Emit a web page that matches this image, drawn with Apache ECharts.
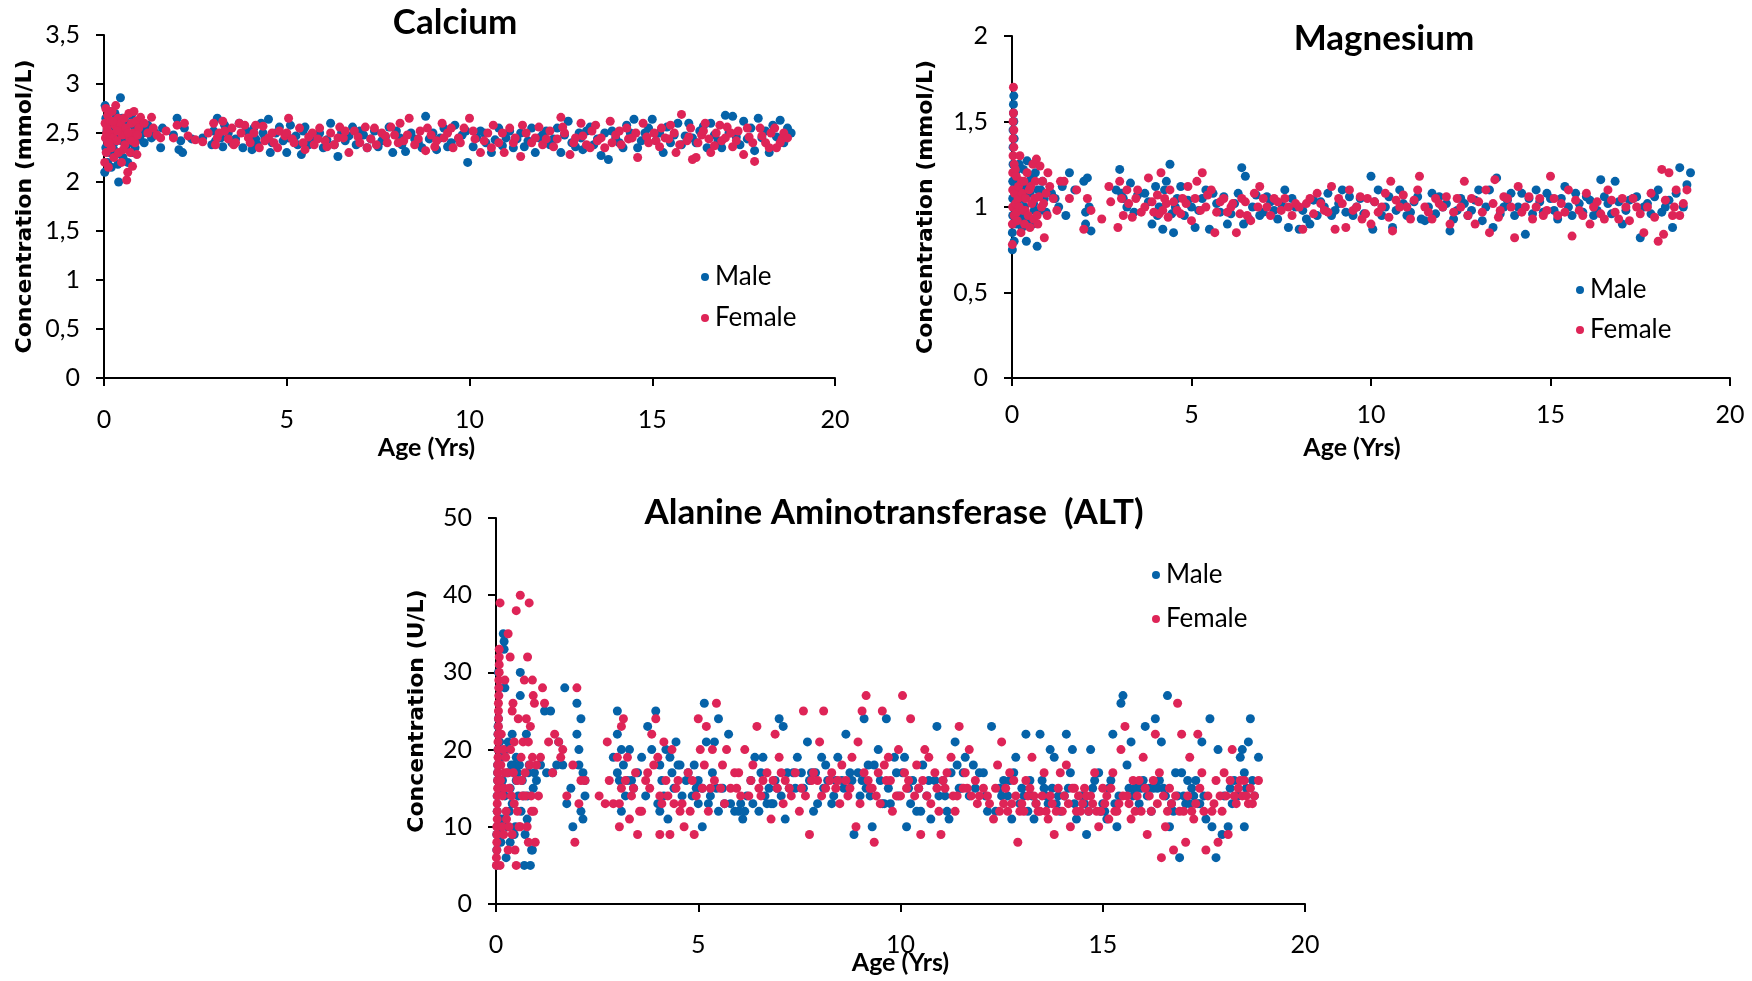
<!DOCTYPE html>
<html>
<head>
<meta charset="utf-8">
<script src="https://cdn.jsdelivr.net/npm/echarts@6/dist/echarts.min.js"></script>
<style>
html,body{margin:0;padding:0;background:#fff;}
#chart{width:1752px;height:981px;}
</style>
</head>
<body>
<div id="chart"></div>
<script>
// ---------- DATA: [age (yrs), concentration] ----------
const seriesNames = ['Male', 'Female'];

const caMale = [
[0.02,2.1],[0.03,2.78],[0.05,2.65],[0.05,2.35],[0.08,2.52],[0.1,2.2],[0.1,2.6],[0.12,2.45],[0.15,2.72],[0.15,2.3],[0.18,2.55],[0.2,2.15],[0.22,2.48],[0.25,2.62],[0.28,2.4],[0.3,2.7],[0.32,2.28],[0.35,2.58],[0.38,2.18],[0.4,2.0],[0.42,2.5],[0.45,2.86],[0.48,2.42],[0.5,2.65],[0.52,2.25],[0.55,2.55],[0.6,2.35],[0.62,2.6],[0.65,2.2],[0.7,2.48],[0.75,2.68],[0.78,2.3],[0.82,2.57],[0.88,2.42],[0.92,2.62],[0.98,2.45],
[0.07,2.44],[0.13,2.58],[0.27,2.33],[0.37,2.65],[0.58,2.47],[0.68,2.4],[0.85,2.35],
[1.05,2.5],[1.1,2.4],[1.15,2.55],[1.2,2.58],[1.3,2.45],[1.4,2.5],[1.55,2.35],[1.6,2.55],[1.9,2.48],[2.0,2.65],[2.05,2.33],[2.1,2.42],[2.15,2.3],[2.2,2.55],[2.4,2.44],[2.7,2.45],
[2.95,2.38],[3.0,2.52],[3.05,2.42],[3.1,2.65],[3.2,2.45],[3.25,2.36],[3.3,2.58],[3.4,2.5],[3.5,2.4],[3.6,2.44],[3.7,2.6],[3.8,2.35],[3.9,2.52],[4.0,2.48],[4.05,2.33],[4.1,2.55],[4.15,2.44],[4.2,2.38],[4.3,2.6],[4.35,2.5],[4.4,2.45],[4.5,2.64],[4.55,2.3],[4.6,2.4],[4.7,2.5],[4.8,2.56],[4.9,2.42],[5.0,2.3],[5.05,2.45],[5.1,2.58],[5.25,2.47],[5.3,2.38],[5.4,2.28],[5.45,2.52],[5.5,2.56],[5.6,2.38],[5.7,2.44],[5.8,2.45],[5.9,2.5],[6.0,2.35],[6.1,2.43],[6.2,2.6],[6.3,2.38],[6.4,2.26],[6.5,2.5],[6.6,2.42],[6.7,2.47],[6.8,2.56],[6.9,2.38],[7.0,2.52],[7.1,2.48],[7.2,2.35],[7.3,2.44],[7.4,2.52],[7.5,2.36],[7.6,2.42],[7.7,2.46],[7.8,2.56],[7.9,2.3],[8.0,2.52],[8.1,2.45],[8.15,2.38],[8.25,2.31],[8.4,2.5],[8.5,2.44],[8.6,2.4],[8.7,2.35],[8.8,2.67],[8.9,2.44],[9.0,2.5],[9.1,2.33],[9.2,2.45],[9.3,2.55],[9.4,2.36],[9.5,2.4],[9.6,2.58],[9.7,2.44],[9.8,2.48],[9.9,2.52],[9.95,2.2],[10.1,2.36],[10.2,2.45],[10.3,2.52],[10.4,2.5],[10.45,2.4],[10.6,2.3],[10.7,2.43],[10.8,2.55],[10.9,2.37],[11.0,2.45],[11.1,2.52],[11.2,2.35],[11.3,2.44],[11.4,2.5],[11.5,2.36],[11.6,2.42],[11.7,2.55],[11.8,2.3],[11.9,2.45],[12.0,2.48],[12.1,2.52],[12.2,2.38],[12.3,2.44],[12.4,2.55],[12.5,2.3],[12.6,2.48],[12.7,2.62],[12.8,2.4],[12.9,2.36],[13.0,2.5],[13.05,2.45],[13.1,2.33],[13.2,2.52],[13.3,2.56],[13.4,2.38],[13.5,2.44],[13.6,2.27],[13.7,2.5],[13.8,2.23],[13.9,2.52],[14.0,2.45],[14.1,2.4],[14.2,2.35],[14.3,2.58],[14.4,2.5],[14.5,2.64],[14.6,2.35],[14.7,2.42],[14.8,2.5],[14.9,2.55],[15.0,2.64],[15.1,2.42],[15.2,2.5],[15.3,2.3],[15.4,2.56],[15.5,2.4],[15.6,2.48],[15.7,2.6],[15.8,2.38],[15.9,2.47],[16.0,2.6],[16.1,2.45],[16.2,2.4],[16.3,2.52],[16.4,2.57],[16.5,2.35],[16.6,2.6],[16.7,2.48],[16.8,2.42],[16.9,2.35],[17.0,2.68],[17.1,2.5],[17.2,2.67],[17.3,2.46],[17.4,2.38],[17.5,2.62],[17.6,2.44],[17.7,2.55],[17.8,2.32],[17.9,2.65],[18.0,2.45],[18.1,2.52],[18.2,2.3],[18.3,2.58],[18.4,2.46],[18.5,2.63],[18.6,2.4],[18.7,2.55],[18.8,2.5]
];
const caFemale = [
[0.02,2.2],[0.03,2.6],[0.04,2.45],[0.05,2.75],[0.06,2.3],[0.08,2.55],[0.1,2.4],[0.1,2.68],[0.12,2.15],[0.15,2.5],[0.17,2.62],[0.2,2.35],[0.22,2.72],[0.25,2.45],[0.27,2.25],[0.3,2.58],[0.32,2.78],[0.35,2.42],[0.38,2.65],[0.4,2.3],[0.43,2.52],[0.45,2.6],[0.48,2.2],[0.5,2.48],[0.55,2.65],[0.57,2.38],[0.6,2.55],[0.62,2.02],[0.65,2.1],[0.68,2.7],[0.7,2.45],[0.72,2.3],[0.75,2.6],[0.78,2.16],[0.8,2.5],[0.82,2.72],[0.85,2.4],[0.88,2.62],[0.9,2.28],[0.95,2.55],[1.0,2.66],
[0.07,2.5],[0.14,2.4],[0.24,2.62],[0.36,2.52],[0.53,2.33],[0.66,2.5],[0.77,2.42],[0.92,2.48],
[1.1,2.6],[1.2,2.5],[1.3,2.66],[1.35,2.55],[1.45,2.48],[1.55,2.45],[1.7,2.52],[1.9,2.45],[2.0,2.58],[2.2,2.6],[2.3,2.47],[2.5,2.43],[2.7,2.41],[2.85,2.5],
[3.0,2.6],[3.05,2.38],[3.1,2.45],[3.15,2.5],[3.25,2.62],[3.3,2.52],[3.4,2.44],[3.5,2.55],[3.55,2.38],[3.6,2.4],[3.7,2.6],[3.75,2.5],[3.85,2.58],[3.95,2.45],[4.0,2.4],[4.1,2.5],[4.15,2.58],[4.25,2.35],[4.35,2.57],[4.4,2.42],[4.5,2.45],[4.6,2.5],[4.65,2.4],[4.75,2.35],[4.8,2.52],[4.95,2.47],[5.0,2.5],[5.05,2.65],[5.15,2.44],[5.2,2.4],[5.35,2.55],[5.45,2.4],[5.5,2.33],[5.6,2.46],[5.7,2.5],[5.75,2.38],[5.85,2.44],[5.9,2.55],[6.05,2.42],[6.1,2.36],[6.2,2.5],[6.3,2.38],[6.4,2.45],[6.45,2.56],[6.55,2.45],[6.6,2.52],[6.7,2.3],[6.85,2.52],[6.95,2.46],[7.0,2.4],[7.15,2.56],[7.2,2.35],[7.3,2.44],[7.4,2.55],[7.45,2.38],[7.6,2.5],[7.7,2.47],[7.75,2.4],[7.85,2.56],[7.95,2.48],[8.05,2.4],[8.1,2.6],[8.2,2.42],[8.3,2.48],[8.35,2.65],[8.5,2.38],[8.6,2.44],[8.65,2.52],[8.8,2.32],[8.85,2.55],[8.95,2.48],[9.05,2.36],[9.1,2.42],[9.25,2.6],[9.3,2.45],[9.4,2.5],[9.5,2.55],[9.55,2.35],[9.7,2.45],[9.75,2.4],[9.85,2.55],[10.0,2.65],[10.1,2.52],[10.15,2.44],[10.3,2.3],[10.4,2.42],[10.5,2.5],[10.6,2.35],[10.65,2.58],[10.8,2.4],[10.9,2.5],[10.95,2.3],[11.1,2.55],[11.2,2.4],[11.25,2.45],[11.4,2.26],[11.45,2.58],[11.55,2.5],[11.7,2.4],[11.8,2.45],[11.9,2.56],[12.0,2.38],[12.1,2.44],[12.2,2.52],[12.3,2.36],[12.4,2.44],[12.5,2.66],[12.55,2.56],[12.6,2.5],[12.75,2.28],[12.85,2.4],[12.9,2.45],[13.05,2.6],[13.1,2.47],[13.2,2.38],[13.3,2.35],[13.35,2.52],[13.45,2.58],[13.5,2.42],[13.6,2.45],[13.7,2.35],[13.85,2.62],[13.9,2.4],[14.0,2.48],[14.1,2.52],[14.15,2.38],[14.3,2.55],[14.35,2.44],[14.45,2.45],[14.55,2.5],[14.6,2.25],[14.75,2.6],[14.85,2.46],[14.9,2.4],[15.05,2.5],[15.1,2.42],[15.2,2.36],[15.25,2.55],[15.35,2.45],[15.45,2.44],[15.5,2.58],[15.6,2.5],[15.65,2.3],[15.75,2.38],[15.8,2.69],[15.95,2.42],[16.0,2.46],[16.05,2.55],[16.1,2.23],[16.2,2.25],[16.25,2.4],[16.35,2.48],[16.4,2.52],[16.45,2.6],[16.55,2.44],[16.6,2.3],[16.7,2.37],[16.75,2.5],[16.85,2.58],[16.9,2.42],[17.0,2.45],[17.05,2.56],[17.15,2.5],[17.2,2.36],[17.3,2.42],[17.35,2.52],[17.5,2.28],[17.6,2.55],[17.65,2.46],[17.75,2.4],[17.8,2.21],[17.95,2.55],[18.0,2.47],[18.1,2.4],[18.2,2.35],[18.25,2.5],[18.35,2.55],[18.4,2.35],[18.5,2.4],[18.55,2.44],[18.6,2.5],[18.7,2.45]
];

const mgMale = [
[0.01,0.75],[0.01,0.85],[0.02,0.95],[0.02,1.05],[0.02,1.15],[0.03,1.25],[0.03,1.35],[0.03,1.45],[0.04,1.55],[0.04,1.6],[0.05,1.65],[0.05,1.5],[0.06,1.4],[0.06,0.8],
[0.08,1.12],[0.1,1.2],[0.12,0.9],[0.14,1.02],[0.15,1.1],[0.18,1.0],[0.2,1.25],[0.22,0.95],[0.24,1.08],[0.25,1.15],[0.28,0.88],[0.3,1.05],[0.32,1.22],[0.34,0.92],[0.35,1.0],[0.38,1.12],[0.4,0.8],[0.42,1.27],[0.45,0.93],[0.47,1.15],[0.5,1.08],[0.55,1.18],[0.58,0.9],[0.6,1.02],[0.62,0.98],[0.65,1.2],[0.7,0.77],[0.72,1.1],[0.78,0.98],[0.8,1.1],[0.85,1.15],[0.9,1.05],[0.95,0.97],
[1.1,1.08],[1.2,1.05],[1.3,1.0],[1.4,1.12],[1.5,0.95],[1.6,1.2],[1.75,1.1],[2.0,1.15],[2.05,0.9],[2.1,1.17],[2.15,1.0],[2.2,0.86],[2.05,0.97],
[2.9,1.1],[3.0,1.22],[3.05,1.08],[3.1,1.05],[3.2,1.0],[3.3,1.14],[3.4,0.97],[3.5,1.07],[3.7,1.08],[3.8,1.03],[3.9,0.9],[4.0,1.12],[4.05,0.95],[4.1,1.0],[4.2,0.87],[4.25,1.1],[4.3,1.15],[4.4,1.25],[4.45,0.96],[4.5,0.85],[4.55,1.0],[4.6,1.05],[4.7,1.12],[4.8,0.95],[4.9,1.04],[5.0,1.0],[5.1,0.88],[5.2,0.98],[5.3,1.05],[5.4,1.1],[5.5,0.87],[5.6,1.08],[5.7,1.02],[5.8,0.97],[5.9,1.06],[6.0,0.9],[6.1,0.96],[6.2,1.02],[6.3,1.08],[6.4,1.23],[6.45,0.9],[6.5,1.18],[6.6,0.93],[6.7,1.0],[6.8,1.07],[6.9,0.95],[7.0,0.97],[7.1,1.06],[7.2,1.03],[7.3,0.98],[7.4,0.93],[7.5,1.02],[7.6,1.1],[7.7,0.88],[7.8,1.05],[7.9,1.0],[8.0,0.87],[8.1,0.98],[8.2,0.93],[8.3,0.9],[8.4,1.04],[8.5,0.95],[8.6,1.03],[8.7,1.0],[8.8,1.08],[8.9,0.95],[9.0,0.98],[9.1,1.02],[9.2,1.1],[9.3,0.97],[9.4,1.06],[9.5,0.95],[9.6,1.0],[9.7,1.05],[9.8,0.96],[10.0,1.18],[10.05,0.87],[10.1,1.03],[10.2,1.1],[10.3,0.95],[10.4,1.0],[10.5,1.06],[10.6,0.88],[10.7,0.98],[10.8,1.1],[10.9,1.02],[11.0,0.95],[11.1,0.97],[11.2,1.03],[11.3,1.06],[11.4,0.93],[11.5,0.92],[11.6,1.0],[11.7,1.08],[11.8,0.96],[11.9,1.06],[12.0,1.0],[12.1,1.02],[12.2,0.86],[12.3,0.93],[12.4,0.98],[12.5,1.05],[12.6,1.02],[12.7,0.95],[12.8,0.98],[12.9,1.04],[13.0,1.1],[13.1,0.92],[13.2,1.0],[13.3,1.1],[13.4,0.88],[13.5,1.17],[13.6,0.96],[13.7,1.0],[13.8,1.04],[13.9,1.08],[14.0,0.95],[14.1,1.0],[14.2,1.08],[14.3,0.84],[14.4,1.05],[14.5,0.96],[14.6,1.1],[14.7,1.03],[14.8,0.97],[14.9,1.08],[15.0,1.05],[15.1,0.98],[15.2,0.93],[15.3,1.05],[15.4,1.12],[15.5,1.0],[15.6,0.95],[15.7,1.08],[15.8,1.02],[15.9,0.97],[16.0,1.06],[16.1,1.04],[16.2,0.95],[16.3,0.98],[16.4,1.16],[16.5,1.06],[16.6,1.02],[16.7,0.96],[16.8,1.15],[16.9,1.03],[17.0,0.9],[17.1,0.98],[17.2,1.04],[17.3,1.05],[17.4,1.06],[17.5,0.82],[17.6,1.0],[17.7,1.02],[17.8,0.96],[17.9,1.06],[18.0,1.1],[18.1,0.97],[18.2,1.0],[18.3,1.04],[18.4,0.88],[18.5,1.08],[18.6,1.23],[18.7,1.0],[18.8,1.13],[18.9,1.2]
];
const mgFemale = [
[0.01,0.78],[0.01,0.9],[0.02,1.0],[0.02,1.1],[0.02,1.2],[0.03,1.3],[0.03,1.4],[0.03,1.5],[0.04,1.55],[0.04,1.7],[0.05,1.45],[0.05,1.35],[0.06,1.25],[0.06,0.95],[0.07,1.08],
[0.09,1.22],[0.1,1.02],[0.12,1.18],[0.13,0.97],[0.15,0.92],[0.17,1.05],[0.18,1.12],[0.2,1.0],[0.22,1.3],[0.25,0.85],[0.27,1.15],[0.28,1.08],[0.3,0.98],[0.33,1.15],[0.35,0.9],[0.37,0.98],[0.38,1.05],[0.42,1.2],[0.45,0.95],[0.48,1.1],[0.5,0.88],[0.52,1.12],[0.55,1.02],[0.58,1.25],[0.6,0.93],[0.63,1.05],[0.65,1.15],[0.68,1.28],[0.7,0.95],[0.72,0.9],[0.75,1.06],[0.78,1.24],[0.82,1.0],[0.85,1.15],[0.88,1.02],[0.9,0.82],[0.95,1.08],[0.98,0.95],[1.0,1.2],
[1.05,1.12],[1.15,1.05],[1.25,0.98],[1.35,1.15],[1.45,1.15],[1.6,1.05],[1.8,1.1],[2.0,0.87],[2.1,1.05],[2.2,0.98],[2.5,0.93],[2.7,1.12],[2.75,1.03],
[2.95,0.88],[3.0,1.15],[3.05,1.05],[3.1,0.95],[3.2,1.1],[3.25,1.02],[3.35,0.94],[3.45,1.05],[3.5,1.1],[3.6,0.97],[3.7,1.0],[3.8,1.17],[3.9,1.03],[3.95,0.97],[4.05,1.07],[4.1,0.96],[4.15,1.2],[4.2,0.98],[4.25,1.05],[4.3,1.02],[4.35,0.94],[4.4,1.1],[4.5,1.03],[4.6,0.98],[4.7,0.96],[4.75,1.05],[4.85,1.02],[4.9,1.12],[5.0,0.92],[5.1,1.05],[5.15,1.15],[5.25,0.98],[5.3,1.2],[5.4,1.0],[5.45,1.07],[5.55,1.1],[5.65,0.85],[5.7,0.97],[5.8,1.03],[5.9,1.05],[6.0,0.97],[6.1,1.0],[6.15,1.02],[6.25,0.85],[6.35,0.96],[6.4,1.05],[6.5,1.03],[6.55,0.95],[6.65,0.92],[6.75,1.08],[6.85,1.0],[6.9,1.12],[7.0,1.05],[7.1,1.0],[7.2,0.95],[7.3,1.05],[7.4,1.03],[7.5,0.98],[7.6,1.05],[7.7,1.0],[7.8,0.95],[7.9,1.02],[8.0,1.0],[8.1,0.87],[8.2,1.02],[8.3,1.05],[8.4,0.96],[8.5,1.08],[8.6,1.02],[8.7,0.98],[8.8,0.97],[8.9,1.12],[9.0,0.87],[9.1,1.05],[9.2,1.02],[9.3,0.88],[9.4,1.1],[9.5,0.98],[9.6,1.0],[9.7,1.06],[9.75,0.93],[9.85,0.96],[9.9,1.05],[10.0,0.9],[10.1,1.03],[10.2,0.97],[10.3,1.0],[10.4,1.08],[10.5,0.94],[10.55,1.15],[10.6,0.86],[10.7,1.04],[10.8,1.0],[10.9,1.07],[11.0,1.0],[11.1,0.93],[11.2,1.04],[11.3,1.1],[11.35,1.18],[11.5,1.0],[11.6,0.97],[11.7,0.93],[11.8,1.05],[11.9,1.02],[12.0,1.0],[12.1,1.06],[12.2,0.9],[12.3,0.97],[12.4,1.05],[12.5,1.0],[12.6,1.15],[12.7,0.95],[12.8,1.05],[12.9,0.9],[13.0,1.03],[13.1,0.97],[13.2,1.1],[13.3,0.85],[13.4,1.02],[13.45,1.16],[13.55,0.94],[13.6,0.98],[13.7,1.06],[13.8,1.05],[13.9,1.0],[14.0,0.82],[14.1,1.12],[14.2,0.97],[14.3,1.0],[14.4,1.06],[14.5,0.93],[14.6,1.0],[14.7,1.05],[14.8,0.95],[14.9,0.98],[15.0,1.18],[15.1,1.05],[15.2,0.95],[15.3,1.02],[15.4,0.97],[15.5,1.1],[15.6,0.83],[15.7,1.04],[15.8,0.98],[15.9,0.95],[16.0,1.08],[16.1,0.9],[16.2,1.0],[16.3,1.03],[16.4,0.96],[16.5,0.93],[16.6,1.1],[16.7,1.04],[16.8,0.97],[16.9,0.93],[17.0,1.05],[17.1,1.0],[17.2,0.92],[17.3,1.05],[17.4,1.0],[17.5,0.96],[17.6,0.85],[17.7,1.0],[17.8,1.08],[17.9,0.94],[18.0,0.8],[18.1,1.22],[18.15,0.84],[18.2,1.04],[18.3,1.2],[18.4,0.95],[18.45,1.0],[18.5,1.1],[18.6,0.95],[18.7,1.02],[18.8,1.1]
];

const altMale = [
[0.02,5],[0.02,7],[0.02,9],[0.03,10],[0.03,12],[0.03,14],[0.04,16],[0.04,17],[0.04,18],[0.05,20],[0.05,22],[0.05,23],[0.06,24],[0.06,30],[0.07,19],[0.08,28],[0.09,21],[0.1,15],[0.1,9],
[0.12,8],[0.14,11],[0.15,19],[0.16,16],[0.18,35],[0.2,34],[0.2,33],[0.22,28],[0.22,14],[0.25,20],[0.25,6],[0.28,10],[0.3,21],[0.3,17],[0.33,12],[0.35,8],[0.35,15],[0.38,18],[0.4,22],[0.4,13],[0.45,18],[0.45,9],[0.48,10],[0.5,16],[0.5,19],[0.53,17],[0.55,14],[0.58,18],[0.6,30],[0.6,27],[0.62,12],[0.65,16],[0.68,14],[0.7,5],[0.72,9],[0.75,22],[0.77,11],[0.78,14],[0.8,17],[0.82,18],[0.85,5],[0.88,7],[0.9,7],[0.92,15],[0.95,17],[1.0,16],
[1.1,18],[1.2,25],[1.25,17],[1.35,25],[1.4,17],[1.5,18],[1.55,21],[1.65,18],[1.7,28],[1.75,13],[1.85,15],[1.9,10],[2.0,22],[2.0,26],[2.05,20],[2.05,18],[2.1,24],[2.1,12],[2.15,17],[2.15,11],[2.2,14],[2.2,16],
[2.9,19],[3.0,22],[3.0,25],[3.0,17],[3.05,16],[3.1,20],[3.1,12],[3.15,18],[3.2,14],[3.25,16],[3.3,20],[3.35,16],[3.4,15],[3.5,17],[3.6,19],[3.7,14],[3.75,23],[3.85,20],[3.95,25],[4.0,13],[4.05,12],[4.05,18],[4.1,16],[4.15,14],[4.2,20],[4.25,11],[4.3,19],[4.35,17],[4.4,15],[4.45,21],[4.5,18],[4.55,18],[4.6,14],[4.7,16],[4.75,17],[4.85,14],[4.9,18],[4.95,15],[5.0,16],[5.0,13],[5.1,10],[5.1,15],[5.15,26],[5.2,21],[5.25,13],[5.3,14],[5.35,17],[5.4,21],[5.45,15],[5.5,24],[5.5,12],[5.6,15],[5.65,13],[5.75,22],[5.8,13],[5.9,12],[6.0,12],[6.05,13],[6.1,11],[6.15,12],[6.2,14],[6.3,16],[6.35,13],[6.4,19],[6.5,12],[6.55,17],[6.6,19],[6.65,14],[6.7,13],[6.75,15],[6.8,13],[6.85,13],[6.9,16],[6.95,15],[7.0,24],[7.05,14],[7.1,23],[7.15,11],[7.2,17],[7.25,15],[7.35,17],[7.4,15],[7.45,19],[7.55,17],[7.6,15],[7.7,21],[7.75,16],[7.8,17],[7.85,12],[7.9,17],[7.95,13],[8.05,19],[8.1,15],[8.15,18],[8.2,16],[8.3,13],[8.35,14],[8.4,16],[8.45,19],[8.55,16],[8.6,15],[8.65,22],[8.75,17],[8.8,16],[8.85,9],[8.95,17],[9.0,14],[9.05,16],[9.1,24],[9.15,15],[9.2,18],[9.25,14],[9.3,10],[9.35,18],[9.45,20],[9.5,16],[9.55,13],[9.6,13],[9.65,24],[9.7,15],[9.75,13],[9.85,19],[9.9,17],[9.95,14],[10.05,17],[10.1,19],[10.15,10],[10.2,15],[10.25,13],[10.3,16],[10.4,12],[10.45,15],[10.5,12],[10.55,18],[10.65,14],[10.7,16],[10.75,11],[10.85,16],[10.9,23],[10.95,14],[11.05,16],[11.1,14],[11.15,12],[11.2,11],[11.25,17],[11.35,21],[11.4,18],[11.45,15],[11.5,15],[11.55,17],[11.6,19],[11.7,14],[11.8,18],[11.85,15],[11.95,17],[12.05,17],[12.1,14],[12.15,12],[12.25,23],[12.35,12],[12.45,15],[12.5,14],[12.55,16],[12.65,14],[12.7,16],[12.75,11],[12.8,17],[12.85,19],[12.95,13],[13.0,15],[13.05,14],[13.1,22],[13.15,12],[13.2,16],[13.25,14],[13.3,11],[13.35,13],[13.45,22],[13.5,16],[13.55,15],[13.6,14],[13.65,13],[13.7,20],[13.75,15],[13.8,19],[13.85,13],[13.9,14],[13.95,12],[14.05,14],[14.1,22],[14.15,15],[14.2,17],[14.25,20],[14.3,13],[14.35,11],[14.45,14],[14.5,14],[14.55,13],[14.6,9],[14.65,12],[14.7,20],[14.75,15],[14.8,16],[14.9,17],[14.95,12],[15.0,13],[15.05,12],[15.1,11],[15.15,15],[15.2,16],[15.25,22],[15.3,13],[15.35,10],[15.4,14],[15.45,26],[15.5,27],[15.6,18],[15.65,15],[15.7,21],[15.75,14],[15.8,15],[15.85,15],[15.9,13],[15.95,15],[16.0,16],[16.05,23],[16.1,14],[16.15,15],[16.2,12],[16.25,15],[16.3,24],[16.35,15],[16.4,16],[16.45,21],[16.5,15],[16.55,14],[16.6,27],[16.65,10],[16.7,13],[16.75,12],[16.8,17],[16.85,14],[16.9,6],[16.95,17],[17.0,14],[17.05,13],[17.1,16],[17.15,13],[17.2,15],[17.25,14],[17.3,16],[17.35,13],[17.4,13],[17.45,21],[17.5,14],[17.55,11],[17.65,24],[17.7,10],[17.8,6],[17.85,20],[17.95,9],[18.0,14],[18.1,10],[18.15,15],[18.2,13],[18.25,16],[18.35,14],[18.4,19],[18.45,20],[18.5,17],[18.5,10],[18.55,15],[18.6,21],[18.65,24],[18.7,16],[18.75,14],[18.85,19]
];
const altFemale = [
[0.01,5],[0.01,6],[0.02,7],[0.02,8],[0.02,9],[0.02,10],[0.03,11],[0.03,12],[0.03,13],[0.03,14],[0.04,15],[0.04,16],[0.04,17],[0.04,18],[0.05,19],[0.05,20],[0.05,21],[0.05,22],[0.06,23],[0.06,24],[0.06,25],[0.06,26],[0.07,27],[0.07,28],[0.07,29],[0.08,30],[0.08,31],[0.08,32],[0.08,33],[0.1,39],[0.1,5],
[0.11,16],[0.12,18],[0.13,22],[0.15,10],[0.16,14],[0.18,20],[0.19,9],[0.2,15],[0.21,17],[0.22,29],[0.24,19],[0.25,12],[0.26,11],[0.28,17],[0.3,35],[0.3,7],[0.32,10],[0.33,15],[0.35,32],[0.36,20],[0.38,14],[0.4,25],[0.4,9],[0.42,26],[0.43,17],[0.45,21],[0.45,13],[0.47,7],[0.5,38],[0.5,5],[0.52,16],[0.53,12],[0.55,24],[0.57,10],[0.6,40],[0.6,10],[0.62,19],[0.63,16],[0.65,14],[0.67,21],[0.7,29],[0.72,17],[0.73,14],[0.75,24],[0.77,10],[0.78,32],[0.8,21],[0.8,8],[0.82,39],[0.83,18],[0.85,23],[0.87,14],[0.88,12],[0.9,29],[0.9,19],[0.92,27],[0.93,12],[0.95,26],[0.97,8],[1.0,18],[1.05,14],
[1.1,19],[1.15,28],[1.2,26],[1.3,21],[1.4,17],[1.45,22],[1.55,21],[1.6,19],[1.65,20],[1.75,14],[1.9,18],[1.95,8],[2.0,28],[2.05,13],[2.1,16],[2.2,16],
[2.55,14],[2.7,13],[2.75,21],[2.8,16],[2.9,13],[3.0,19],[3.05,13],[3.05,10],[3.1,23],[3.1,15],[3.15,24],[3.2,16],[3.25,19],[3.3,11],[3.35,14],[3.4,15],[3.45,17],[3.5,9],[3.55,12],[3.6,12],[3.7,16],[3.75,17],[3.8,15],[3.85,22],[3.9,18],[3.95,24],[4.0,19],[4.05,9],[4.05,14],[4.1,13],[4.15,21],[4.2,16],[4.25,14],[4.3,9],[4.35,20],[4.4,13],[4.45,15],[4.5,16],[4.55,12],[4.6,13],[4.65,10],[4.75,17],[4.8,12],[4.85,16],[4.9,9],[4.95,14],[5.0,24],[5.05,20],[5.1,15],[5.15,18],[5.2,23],[5.25,12],[5.3,15],[5.35,20],[5.4,16],[5.45,26],[5.55,15],[5.6,18],[5.65,13],[5.7,20],[5.8,15],[5.9,17],[5.95,15],[6.0,17],[6.05,14],[6.15,20],[6.25,14],[6.3,16],[6.35,18],[6.45,23],[6.5,15],[6.55,14],[6.6,16],[6.7,17],[6.8,11],[6.85,16],[6.9,22],[6.95,15],[7.0,19],[7.05,17],[7.1,13],[7.15,16],[7.25,15],[7.3,14],[7.4,17],[7.5,12],[7.55,15],[7.6,25],[7.65,14],[7.75,9],[7.8,16],[7.85,17],[7.95,16],[8.0,21],[8.05,14],[8.1,25],[8.15,15],[8.25,16],[8.3,17],[8.4,15],[8.45,16],[8.5,13],[8.55,18],[8.65,16],[8.7,14],[8.75,15],[8.8,19],[8.9,10],[8.95,21],[9.0,13],[9.05,25],[9.1,17],[9.15,27],[9.2,16],[9.25,15],[9.3,15],[9.35,8],[9.4,14],[9.45,17],[9.5,13],[9.55,25],[9.6,18],[9.65,16],[9.7,19],[9.75,16],[9.8,12],[9.9,14],[9.95,20],[10.0,14],[10.05,27],[10.1,17],[10.15,15],[10.2,16],[10.25,24],[10.35,14],[10.4,18],[10.45,15],[10.5,9],[10.55,16],[10.6,20],[10.65,14],[10.7,19],[10.75,13],[10.85,17],[10.9,15],[10.95,12],[11.0,9],[11.05,16],[11.1,15],[11.15,17],[11.25,19],[11.3,14],[11.35,12],[11.4,14],[11.45,23],[11.55,15],[11.6,17],[11.65,15],[11.7,20],[11.75,14],[11.85,16],[11.9,13],[11.95,14],[12.05,15],[12.15,14],[12.2,13],[12.3,11],[12.35,15],[12.4,18],[12.45,12],[12.5,21],[12.55,13],[12.6,15],[12.65,12],[12.7,17],[12.75,13],[12.8,16],[12.85,14],[12.9,8],[12.95,12],[13.0,13],[13.05,12],[13.1,16],[13.15,14],[13.2,15],[13.25,19],[13.3,14],[13.35,13],[13.4,12],[13.45,12],[13.5,14],[13.55,17],[13.6,12],[13.65,11],[13.7,14],[13.75,13],[13.8,9],[13.85,12],[13.9,15],[13.95,17],[14.0,12],[14.05,14],[14.1,18],[14.15,13],[14.2,10],[14.25,15],[14.3,15],[14.35,12],[14.4,14],[14.45,12],[14.5,13],[14.55,15],[14.6,14],[14.65,12],[14.7,14],[14.75,13],[14.8,17],[14.85,12],[14.9,10],[14.95,12],[15.0,15],[15.05,13],[15.1,14],[15.15,11],[15.2,15],[15.25,17],[15.3,12],[15.35,12],[15.4,13],[15.45,20],[15.5,14],[15.55,23],[15.6,14],[15.65,13],[15.7,11],[15.75,16],[15.8,12],[15.85,14],[15.9,16],[15.95,12],[16.0,19],[16.05,15],[16.1,9],[16.15,14],[16.2,12],[16.25,16],[16.3,22],[16.35,13],[16.4,17],[16.45,6],[16.5,14],[16.55,10],[16.6,12],[16.65,15],[16.7,13],[16.75,7],[16.8,14],[16.85,26],[16.9,12],[16.95,22],[17.0,12],[17.05,8],[17.1,14],[17.15,19],[17.2,12],[17.25,11],[17.3,13],[17.35,22],[17.4,15],[17.45,17],[17.5,12],[17.55,7],[17.6,14],[17.7,12],[17.75,13],[17.8,16],[17.85,8],[17.9,14],[17.95,12],[18.0,17],[18.05,14],[18.1,9],[18.15,16],[18.2,20],[18.25,14],[18.3,13],[18.35,15],[18.4,16],[18.45,14],[18.5,16],[18.55,14],[18.6,13],[18.65,15],[18.7,13],[18.75,14],[18.85,16]
];

// ---------- STYLE ----------
const BLUE = '#0562A8';
const RED = '#DE2457';
const TICK_FONT = 'Lato';
const commaFmt = v => String(v).replace('.', ',');

function xAxisCfg(gridIndex, nameGap, padRight, labelMargin) {
  return {
    type: 'value', gridIndex, min: 0, max: 20, interval: 5,
    name: 'Age (Yrs)', nameLocation: 'middle', nameGap: nameGap, nameMoveOverlap: false,
    nameTextStyle: { fontFamily: TICK_FONT, fontWeight: 'bold', fontSize: 25, color: '#000', padding: [0, padRight, 0, 0] },
    axisLine: { show: true, lineStyle: { color: '#000', width: 2 } },
    axisTick: { show: true, length: 8, lineStyle: { color: '#000', width: 2 } },
    axisLabel: { fontFamily: TICK_FONT, fontSize: 25, color: '#000', margin: labelMargin },
    splitLine: { show: false }
  };
}
function yAxisCfg(gridIndex, max, interval, name, nameGap) {
  return {
    type: 'value', gridIndex, min: 0, max: max, interval: interval,
    name: name, nameLocation: 'middle', nameGap: nameGap, nameRotate: 90, nameMoveOverlap: false,
    nameTextStyle: { fontFamily: 'DejaVu Sans', fontWeight: 'bold', fontSize: 22, color: '#000' },
    axisLine: { show: true, lineStyle: { color: '#000', width: 2 } },
    axisTick: { show: true, length: 8, lineStyle: { color: '#000', width: 2 } },
    axisLabel: { fontFamily: TICK_FONT, fontSize: 25, color: '#000', margin: 24, formatter: commaFmt },
    splitLine: { show: false }
  };
}
function scatter(name, data, color, xi) {
  return {
    type: 'scatter', name, data, xAxisIndex: xi, yAxisIndex: xi,
    symbol: 'circle', symbolSize: 9,
    itemStyle: { color: color, opacity: 1 },
    emphasis: { disabled: true }
  };
}
function legendCfg(left, top, gap) {
  return {
    data: seriesNames, orient: 'vertical', left: left, top: top, itemGap: gap,
    icon: 'circle', itemWidth: 8, itemHeight: 8,
    textStyle: { fontFamily: TICK_FONT, fontSize: 26, color: '#000', padding: [0, 0, 0, 1], lineHeight: 30 },
    selectedMode: false
  };
}
function titleText(x, y, text) {
  return {
    type: 'text', x: x, y: y,
    style: { text: text, font: 'bold 35px Lato', fill: '#000', align: 'center', verticalAlign: 'middle', textAlign: 'center', textVerticalAlign: 'middle' }
  };
}

const chart = echarts.init(document.getElementById('chart'), null, { renderer: 'canvas' });
chart.setOption({
  animation: false,
  backgroundColor: '#fff',
  color: [BLUE, RED],
  grid: [
    { left: 104, top: 35, width: 731, height: 343 },
    { left: 1012, top: 36, width: 718, height: 342 },
    { left: 496, top: 518, width: 809, height: 386 }
  ],
  xAxis: [ xAxisCfg(0, 57, 86, 29), xAxisCfg(1, 57, 38, 24), xAxisCfg(2, 46, 0, 28) ],
  yAxis: [
    yAxisCfg(0, 3.5, 0.5, 'Concentration (mmol/L)', 68),
    yAxisCfg(1, 2, 0.5, 'Concentration (mmol/L)', 75),
    yAxisCfg(2, 50, 10, 'Concentration (U/L)', 68)
  ],
  legend: [ legendCfg(696, 257, 11), legendCfg(1571, 270, 10), legendCfg(1147, 555, 14) ],
  graphic: [
    titleText(455, 23, 'Calcium'),
    titleText(1384, 39, 'Magnesium'),
    titleText(894, 513, 'Alanine Aminotransferase  (ALT)')
  ],
  series: [
    scatter('Male', caMale, BLUE, 0),
    scatter('Female', caFemale, RED, 0),
    scatter('Male', mgMale, BLUE, 1),
    scatter('Female', mgFemale, RED, 1),
    scatter('Male', altMale, BLUE, 2),
    scatter('Female', altFemale, RED, 2)
  ]
});
</script>
</body>
</html>
